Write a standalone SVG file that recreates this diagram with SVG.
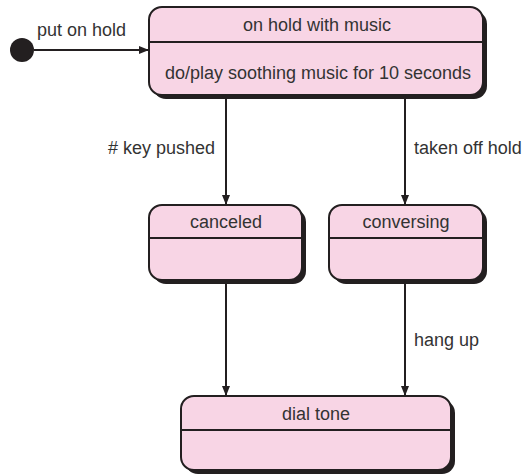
<svg xmlns="http://www.w3.org/2000/svg" width="525" height="476" viewBox="0 0 525 476">
<style>
.box{fill:#f8d5e5;stroke:#231f20;stroke-width:2}
.sh{fill:#231f20}
.div{stroke:#231f20;stroke-width:2}
.t{font-family:"Liberation Sans",Arial,sans-serif;font-size:18px;fill:#333}
.c{text-anchor:middle}
.r{text-anchor:end}
.e{stroke:#231f20;stroke-width:2;fill:none;marker-end:url(#ah)}
</style>
<defs>
<marker id="ah" viewBox="0 0 10 10" refX="10" refY="5" markerWidth="10" markerHeight="10" markerUnits="userSpaceOnUse" orient="auto">
<path d="M0,1 L10,5 L0,9 z" fill="#231f20"/>
</marker>
</defs>
<g id="initial"><circle cx="22" cy="50" r="12" fill="#231f20"/></g>
<g id="onhold">
<rect class="sh" x="153" y="11" width="334" height="88" rx="13"/>
<rect class="box" x="149" y="7" width="334" height="88" rx="13"/>
<line class="div" x1="149" y1="42" x2="483" y2="42"/>
<text class="t c" x="317" y="31">on hold with music</text>
<text class="t c" x="318" y="79">do/play soothing music for 10 seconds</text>
</g>
<g id="canceled">
<rect class="sh" x="153" y="209" width="153" height="75" rx="13"/>
<rect class="box" x="149" y="205" width="153" height="75" rx="13"/>
<line class="div" x1="149" y1="238" x2="302" y2="238"/>
<text class="t c" x="226" y="228">canceled</text>
</g>
<g id="conversing">
<rect class="sh" x="333" y="209" width="154" height="75" rx="13"/>
<rect class="box" x="329" y="205" width="154" height="75" rx="13"/>
<line class="div" x1="329" y1="238" x2="483" y2="238"/>
<text class="t c" x="406" y="228">conversing</text>
</g>
<g id="dialtone">
<rect class="sh" x="185" y="400" width="270" height="74" rx="13"/>
<rect class="box" x="181" y="396" width="270" height="74" rx="13"/>
<line class="div" x1="181" y1="430" x2="451" y2="430"/>
<text class="t c" x="316" y="420">dial tone</text>
</g>
<g id="connectors">
<line class="e" x1="34" y1="50" x2="149" y2="50"/>
<text class="t" x="37" y="36">put on hold</text>
<line class="e" x1="226" y1="96" x2="226" y2="205"/>
<text class="t r" x="215" y="154"># key pushed</text>
<line class="e" x1="405" y1="96" x2="405" y2="205"/>
<text class="t" x="414" y="154">taken off hold</text>
<line class="e" x1="226" y1="281" x2="226" y2="396"/>
<line class="e" x1="405" y1="281" x2="405" y2="396"/>
<text class="t" x="414" y="346">hang up</text>
</g>
</svg>
